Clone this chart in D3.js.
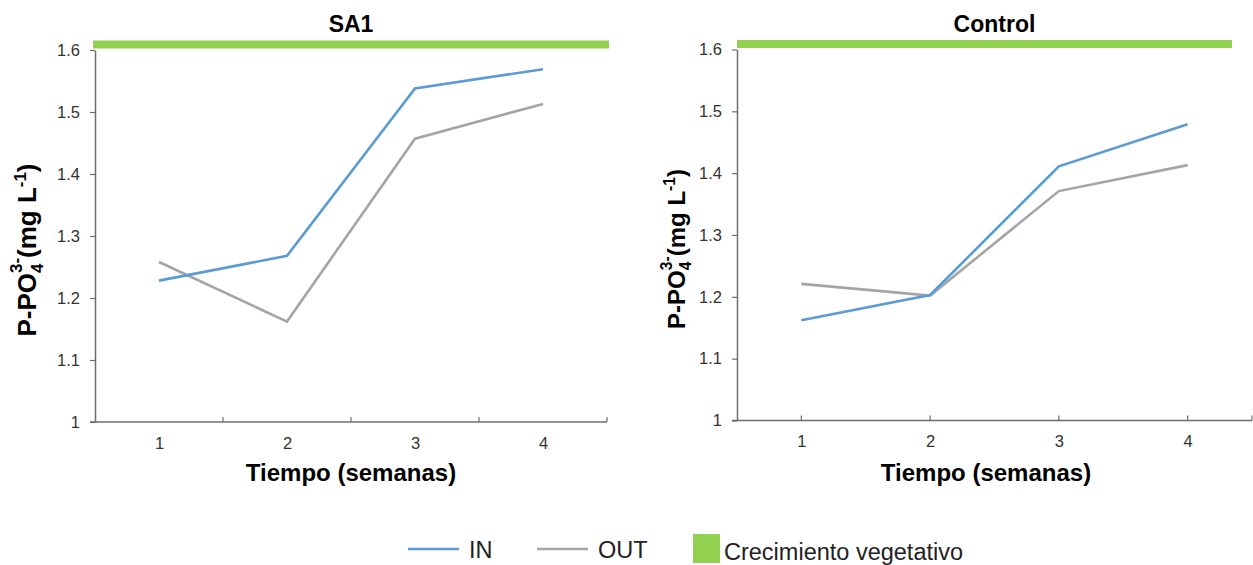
<!DOCTYPE html>
<html>
<head>
<meta charset="utf-8">
<script src="https://cdn.jsdelivr.net/npm/d3@7"></script>
<style>
  body { margin: 0; background: #fff; }
  text { font-family: "Liberation Sans", Arial, sans-serif; }
</style>
</head>
<body>
<script>
// data
var weeks = ["1", "2", "3", "4"];
var yTicks = [1, 1.1, 1.2, 1.3, 1.4, 1.5, 1.6];
var sa1In = [1.228, 1.268, 1.538, 1.569];
var sa1Out = [1.258, 1.162, 1.457, 1.513];
var ctrlIn = [1.162, 1.203, 1.411, 1.479];
var ctrlOut = [1.221, 1.202, 1.371, 1.413];
var growthLevel = 1.609; // "Crecimiento vegetativo" band

var blue = "#5b9bd5", grey = "#a5a5a5", green = "#92d050", axisCol = "#6e6e6e";

var svg = d3.select("body").append("svg").attr("width", 1253).attr("height", 565);

// one panel per treatment
var panels = [
  {title: "SA1", inV: sa1In, outV: sa1Out, x0: 95, x1: 607, yB: 422, yT: 50,
   gx0: 93, gx1: 609, tickMode: "between", xTitle: 351, yLab: 36, labSize: 26},
  {title: "Control", inV: ctrlIn, outV: ctrlOut, x0: 737, x1: 1252, yB: 420.5, yT: 49.5,
   gx0: 737, gx1: 1232, tickMode: "on", xTitle: 986, yLab: 685, labSize: 24}
];

panels.forEach(function(p) {
  var g = svg.append("g");
  var x = d3.scalePoint().domain(weeks).range([p.x0, p.x1]).padding(0.5);
  var y = d3.scaleLinear().domain([1, 1.6]).range([p.yB, p.yT]);
  var step = x.step();

  // y axis
  var ya = g.append("g").attr("transform", "translate(" + p.x0 + ",0)")
    .call(d3.axisLeft(y).tickValues(yTicks).tickSize(5).tickSizeOuter(0).tickPadding(10)
      .tickFormat(function(d){ return d3.format("")(+d.toFixed(1)); }));
  ya.select(".domain").attr("stroke", axisCol).attr("stroke-width", 1.5);
  ya.selectAll(".tick line").attr("stroke", axisCol).attr("stroke-width", 1.2);
  ya.selectAll(".tick text").attr("font-size", 16.5).attr("fill", "#333").attr("font-family", "Liberation Sans, Arial, sans-serif");

  // x axis labels
  var xa = g.append("g").attr("transform", "translate(0," + p.yB + ")")
    .call(d3.axisBottom(x).tickSize(0).tickPadding(15));
  xa.select(".domain").remove();
  xa.selectAll(".tick text").attr("font-size", 16.5).attr("fill", "#333").attr("font-family", "Liberation Sans, Arial, sans-serif");

  // x axis line + inward ticks
  g.append("line").attr("x1", p.x0 - 5).attr("x2", p.x1).attr("y1", p.yB).attr("y2", p.yB)
    .attr("stroke", axisCol).attr("stroke-width", 1.5);
  var tickPos = weeks.map(function(w){ return p.tickMode == "between" ? x(w) + step / 2 : x(w); });
  if (p.tickMode == "on") tickPos.push(p.x1);
  g.selectAll(".xt").data(tickPos).enter().append("line")
    .attr("x1", function(d){ return d; }).attr("x2", function(d){ return d; })
    .attr("y1", p.yB).attr("y2", p.yB - 5)
    .attr("stroke", axisCol).attr("stroke-width", 1.2);

  // growth band
  g.append("line").attr("x1", p.gx0).attr("x2", p.gx1)
    .attr("y1", y(growthLevel)).attr("y2", y(growthLevel))
    .attr("stroke", green).attr("stroke-width", 8);

  var line = d3.line().x(function(d, i){ return x(weeks[i]); }).y(function(d){ return y(d); });
  g.append("path").datum(p.outV).attr("d", line).attr("fill", "none").attr("stroke", grey).attr("stroke-width", 2.6);
  g.append("path").datum(p.inV).attr("d", line).attr("fill", "none").attr("stroke", blue).attr("stroke-width", 2.6);

  // titles
  g.append("text").attr("x", (p.x0 + p.x1) / 2).attr("y", 32).attr("text-anchor", "middle")
    .attr("font-size", 23).attr("font-weight", "bold").text(p.title);
  g.append("text").attr("x", p.xTitle).attr("y", 481).attr("text-anchor", "middle")
    .attr("font-size", 24).attr("font-weight", "bold").text("Tiempo (semanas)");

  var s = p.labSize;
  var yl = g.append("text").attr("transform", "translate(" + p.yLab + "," + ((p.yB + p.yT) / 2 + 14) + ") rotate(-90)")
    .attr("text-anchor", "middle").attr("font-size", s).attr("font-weight", "bold");
  yl.append("tspan").text("P-PO");
  yl.append("tspan").attr("font-size", s * 0.65).attr("dy", s * 0.25).text("4");
  yl.append("tspan").attr("font-size", s * 0.65).attr("dx", -s * 0.36).attr("dy", -s * 0.8).text("3-");
  yl.append("tspan").attr("dy", s * 0.55).text("(mg L");
  yl.append("tspan").attr("font-size", s * 0.65).attr("dy", -s * 0.4).text("-1");
  yl.append("tspan").attr("dy", s * 0.4).text(")");
});

// legend
var leg = svg.append("g");
var legItems = [
  {name: "IN", color: blue, kind: "line", x: 408},
  {name: "OUT", color: grey, kind: "line", x: 537},
  {name: "Crecimiento vegetativo", color: green, kind: "rect", x: 693}
];
legItems.forEach(function(d) {
  if (d.kind == "line") {
    leg.append("line").attr("x1", d.x).attr("x2", d.x + 51).attr("y1", 549).attr("y2", 549)
      .attr("stroke", d.color).attr("stroke-width", 2.6);
    leg.append("text").attr("x", d.x + 61).attr("y", 558).attr("font-size", 23.5).attr("fill", "#222").text(d.name);
  } else {
    leg.append("rect").attr("x", d.x).attr("y", 534).attr("width", 27).attr("height", 29).attr("fill", d.color);
    leg.append("text").attr("x", d.x + 31).attr("y", 560).attr("font-size", 23.5).attr("fill", "#222").text(d.name);
  }
});
</script>
</body>
</html>
